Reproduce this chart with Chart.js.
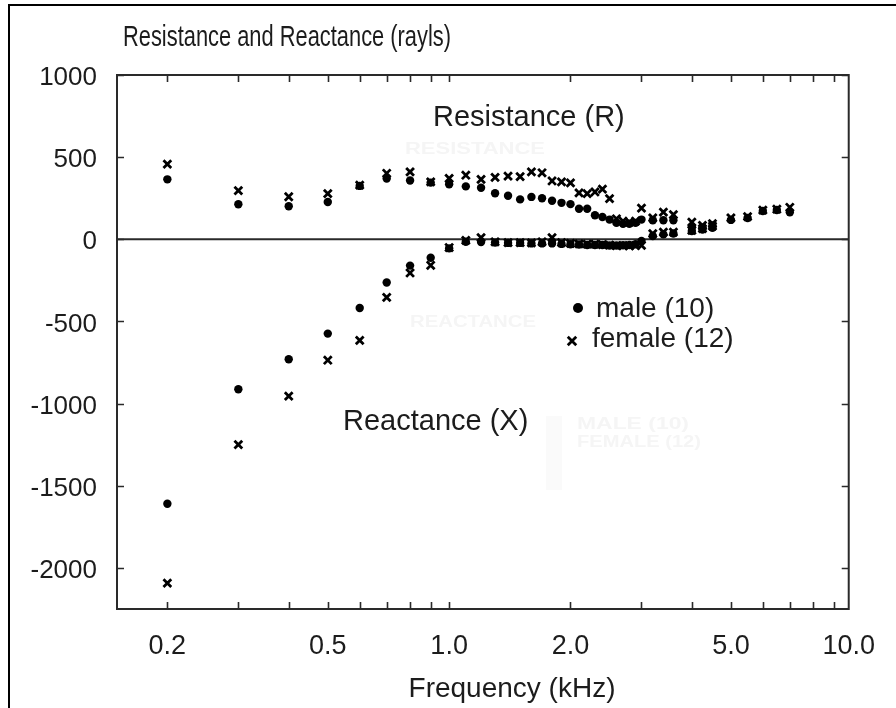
<!DOCTYPE html>
<html><head><meta charset="utf-8">
<script src="https://cdn.jsdelivr.net/npm/chart.js@4.4.1/dist/chart.umd.min.js"></script>
<style>html,body{margin:0;padding:0;background:#fff;overflow:hidden}canvas{display:block}</style>
</head><body>
<canvas id="c" width="896" height="708"></canvas>
<script>
// ---- data (kHz, rayls) ----
const freqsR = [0.2,0.3,0.4,0.5,0.6,0.7,0.8,0.9,1.0,1.1,1.2,1.3,1.4,1.5,1.6,1.7,1.8,1.9,2.0,2.1,2.2,2.3,2.4,2.5,2.6,2.7,2.8,2.9,3.0,3.2,3.4,3.6,4.0,4.25,4.5,5.0,5.5,6.0,6.5,7.0];
const maleR   = [365,213,201,227,325,370,358,345,335,322,314,280,265,243,258,250,235,222,214,186,186,146,136,120,100,95,95,100,120,116,116,116,75,70,85,118,130,172,178,165];
const femaleR = [458,296,259,278,330,402,411,350,371,390,365,377,385,381,411,405,355,350,344,282,278,288,305,248,125,110,105,110,190,130,165,150,105,85,95,130,138,178,183,195];
const freqsX = [0.2,0.3,0.4,0.5,0.6,0.7,0.8,0.9,1.0,1.1,1.2,1.3,1.4,1.5,1.6,1.7,1.8,1.9,2.0,2.1,2.2,2.3,2.4,2.5,2.6,2.7,2.8,2.9,3.0,3.2,3.4,3.6,4.0,4.25,4.5];
const maleX   = [-1609,-913,-730,-574,-418,-263,-160,-112,-55,-15,-16,-20,-22,-22,-25,-25,-25,-28,-30,-32,-35,-35,-35,-38,-38,-36,-35,-30,-10,20,30,35,50,60,70];
const femaleX = [-2092,-1250,-954,-736,-615,-353,-205,-158,-50,-6,10,-15,-20,-20,-22,-15,10,-20,-25,-28,-30,-30,-32,-35,-38,-38,-40,-38,-37,35,44,44,55,65,80];
const xTickValues = [0.2,0.5,1,2,5,10];
const xTickLabels = ['0.2','0.5','1.0','2.0','5.0','10.0'];
const xMinorTicks = [0.2,0.3,0.4,0.5,0.6,0.7,0.8,0.9,1,2,3,4,5,6,7,8,9];
const yTickValues = [1000,500,0,-500,-1000,-1500,-2000];
const seriesNames = ['male (10)','female (12)'];

const X_MIN = 0.15, X_MAX = 9.8, Y_MIN = -2250, Y_MAX = 1000;
const FONT = "'Liberation Sans', Arial, sans-serif";
const INK = '#1c1c1c';
const pts = (xs, ys) => xs.map((f, i) => ({x: f, y: ys[i]}));

const maleStyle = {pointStyle:'circle', pointRadius:4.2, pointBackgroundColor:'#000', pointBorderWidth:0, pointBorderColor:'#000'};
const femaleStyle = {pointStyle:'crossRot', pointRadius:5.5, pointBorderWidth:2.8, pointBorderColor:'#000', pointBackgroundColor:'#000'};

function condensedText(ctx, text, x, y, width) {
  const w = ctx.measureText(text).width;
  ctx.save(); ctx.translate(x, y); ctx.scale(width / w, 1); ctx.fillText(text, 0, 0); ctx.restore();
}

const decor = {
  id: 'decor',
  beforeDraw(chart) {
    const ctx = chart.ctx;
    ctx.save();
    ctx.fillStyle = '#fff';
    ctx.fillRect(0, 0, chart.width, chart.height);
    ctx.strokeStyle = '#000'; ctx.lineWidth = 2;
    ctx.beginPath(); ctx.moveTo(9, chart.height); ctx.lineTo(9, 5); ctx.lineTo(chart.width, 5); ctx.stroke();
    // faint watermark text
    ctx.fillStyle = '#f5f5f5';
    ctx.font = "bold 16px " + FONT;
    condensedText(ctx, 'RESISTANCE', 405, 154, 140);
    condensedText(ctx, 'REACTANCE', 410, 327, 126);
    condensedText(ctx, 'MALE (10)', 577, 429, 112);
    condensedText(ctx, 'FEMALE (12)', 577, 447, 124);
    ctx.fillStyle = '#fafafa';
    ctx.fillRect(546, 416, 16, 74);
    ctx.restore();
  },
  beforeDatasetsDraw(chart) {
    const {ctx, chartArea: a, scales: {x, y}} = chart;
    ctx.save();
    ctx.strokeStyle = '#2a2a2a';
    ctx.lineWidth = 2;
    ctx.strokeRect(a.left, a.top, a.right - a.left, a.bottom - a.top);
    const y0 = y.getPixelForValue(0);
    ctx.beginPath(); ctx.moveTo(a.left, y0); ctx.lineTo(a.right, y0); ctx.stroke();
    ctx.lineWidth = 1.6;
    ctx.beginPath();
    xMinorTicks.forEach(v => {
      const px = Math.round(x.getPixelForValue(v)) + 0.5;
      ctx.moveTo(px, a.bottom); ctx.lineTo(px, a.bottom - 7);
      ctx.moveTo(px, a.top); ctx.lineTo(px, a.top + 7);
    });
    yTickValues.forEach(v => {
      const py = Math.round(y.getPixelForValue(v)) + 0.5;
      ctx.moveTo(a.left, py); ctx.lineTo(a.left + 7, py);
      ctx.moveTo(a.right, py); ctx.lineTo(a.right - 7, py);
    });
    ctx.stroke();
    ctx.restore();
  },
  afterDraw(chart) {
    const ctx = chart.ctx;
    ctx.save();
    ctx.fillStyle = INK;
    ctx.textBaseline = 'alphabetic';
    // title (condensed)
    ctx.font = "29px " + FONT;
    condensedText(ctx, 'Resistance and Reactance (rayls)', 123, 46, 328);
    // annotations
    ctx.font = "29px " + FONT;
    ctx.fillText('Resistance (R)', 433, 126);
    ctx.fillText('Reactance (X)', 343, 430);
    // axis title
    ctx.textAlign = 'center';
    ctx.font = "28px " + FONT;
    ctx.fillText('Frequency (kHz)', 512, 697);
    // legend
    ctx.textAlign = 'left';
    ctx.fillText(seriesNames[0], 596, 317);
    ctx.fillText(seriesNames[1], 592, 347);
    ctx.fillStyle = '#000'; ctx.strokeStyle = '#000';
    Chart.helpers.drawPoint(ctx, {pointStyle:'circle', radius:5, borderWidth:0}, 578, 308);
    ctx.lineWidth = 2.8;
    Chart.helpers.drawPoint(ctx, {pointStyle:'crossRot', radius:6, borderWidth:2.8}, 572, 341);
    ctx.restore();
  }
};

new Chart(document.getElementById('c'), {
  type: 'scatter',
  data: {
    datasets: [
      Object.assign({label: 'male R', data: pts(freqsR, maleR)}, maleStyle),
      Object.assign({label: 'female R', data: pts(freqsR, femaleR)}, femaleStyle),
      Object.assign({label: 'male X', data: pts(freqsX, maleX)}, maleStyle),
      Object.assign({label: 'female X', data: pts(freqsX, femaleX)}, femaleStyle)
    ]
  },
  options: {
    responsive: false,
    animation: false,
    devicePixelRatio: 1,
    layout: {padding: {left: 0, right: 33, top: 75, bottom: 0}},
    plugins: {legend: {display: false}, tooltip: {enabled: false}, title: {display: false}},
    scales: {
      x: {
        type: 'logarithmic', min: X_MIN, max: X_MAX, position: 'bottom',
        grid: {display: false, drawTicks: false}, border: {display: false},
        afterBuildTicks: s => { s.ticks = xTickValues.map(v => ({value: Math.min(v, X_MAX)})); },
        afterFit: s => { s.height = 99; },
        ticks: {
          autoSkip: false, maxRotation: 0, minRotation: 0, padding: 21, color: INK,
          font: {family: FONT, size: 27},
          callback: (v, i) => xTickLabels[i]
        }
      },
      y: {
        type: 'linear', min: Y_MIN, max: Y_MAX,
        grid: {display: false, drawTicks: false}, border: {display: false},
        afterBuildTicks: s => { s.ticks = yTickValues.map(v => ({value: v})); },
        afterFit: s => { s.width = 117; },
        ticks: {
          padding: 20, labelOffset: 3, color: INK, font: {family: FONT, size: 26},
          callback: v => String(v)
        }
      }
    }
  },
  plugins: [decor]
});
</script>
</body></html>
